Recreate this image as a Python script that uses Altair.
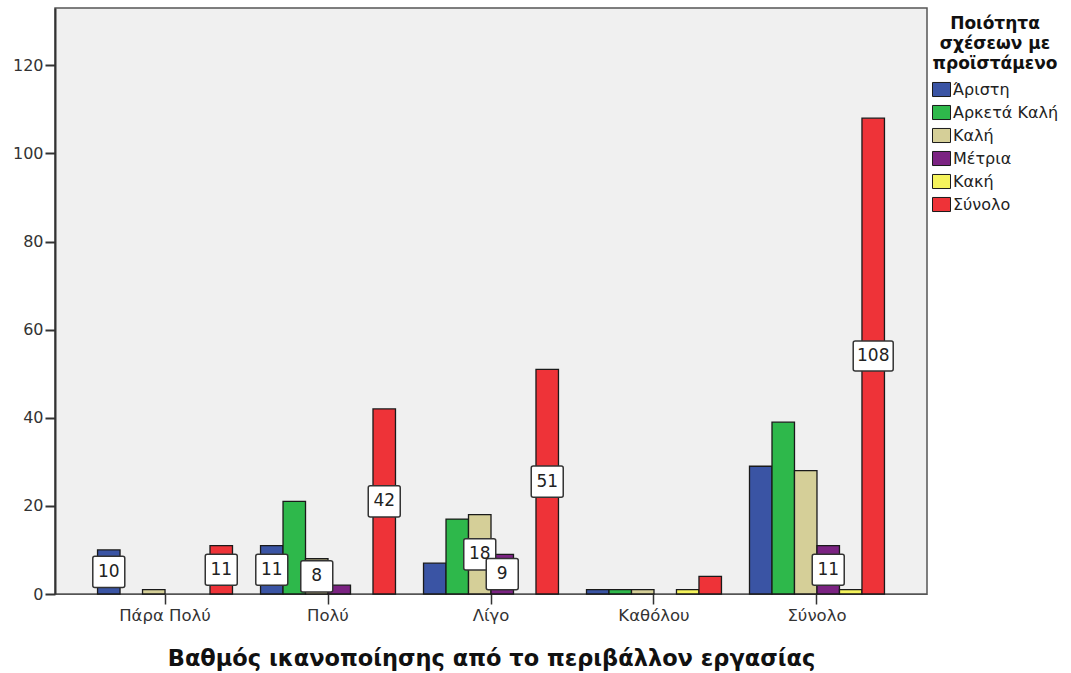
import altair as alt
import pandas as pd

# Categories
groups = ["Πάρα Πολύ", "Πολύ", "Λίγο", "Καθόλου", "Σύνολο"]
series = ["Άριστη", "Αρκετά Καλή", "Καλή", "Μέτρια", "Κακή", "Σύνολο"]
colors = ["#3a54a4", "#2eb84b", "#d5cf98", "#7b2382", "#f5f35c", "#ee3338"]

# Counts per series, one value per group
aristi = [10, 11, 7, 1, 29]
arketa_kali = [0, 21, 17, 1, 39]
kali = [1, 8, 18, 1, 28]
metria = [0, 2, 9, 0, 11]
kaki = [0, 0, 0, 1, 1]
synolo = [11, 42, 51, 4, 108]

# Bars that carry a value label (group, series)
labelled = [
    ("Πάρα Πολύ", "Άριστη"), ("Πάρα Πολύ", "Σύνολο"),
    ("Πολύ", "Άριστη"), ("Πολύ", "Καλή"), ("Πολύ", "Σύνολο"),
    ("Λίγο", "Καλή"), ("Λίγο", "Μέτρια"), ("Λίγο", "Σύνολο"),
    ("Σύνολο", "Μέτρια"), ("Σύνολο", "Σύνολο"),
]

y_ticks = [0, 20, 40, 60, 80, 100, 120]

values_by_series = [aristi, arketa_kali, kali, metria, kaki, synolo]
rows = []
for s, vals in zip(series, values_by_series):
    for g, v in zip(groups, vals):
        rows.append({"group": g, "series": s, "value": v,
                     "lab": (g, s) in labelled})
df = pd.DataFrame(rows)

FONT = "DejaVu Sans"

# Rounded label boxes as custom symbol paths (coordinates in [-1, 1])
def box_path(hx, hy, r=0.1):
    return (f"M{-hx + r},{-hy} L{hx - r},{-hy} Q{hx},{-hy} {hx},{-hy + r} "
            f"L{hx},{hy - r} Q{hx},{hy} {hx - r},{hy} L{-hx + r},{hy} "
            f"Q{-hx},{hy} {-hx},{hy - r} L{-hx},{-hy + r} Q{-hx},{-hy} {-hx + r},{-hy} Z")

narrow_box = box_path(0.8, 0.78)
wide_box = box_path(1.0, 0.75)

x_enc = alt.X(
    "group:N", sort=groups,
    scale=alt.Scale(paddingInner=0.172, paddingOuter=0.261),
    axis=alt.Axis(
        title="Βαθμός ικανοποίησης από το περιβάλλον εργασίας",
        labelAngle=0, labelFont=FONT, labelFontSize=16.5, labelColor="#333",
        labelPadding=3, tickSize=10, tickColor="#333", tickWidth=1.5,
        domainColor="#555", domainWidth=1,
        titleFont=FONT, titleFontSize=22.5, titleFontWeight="bold",
        titleColor="#111", titlePadding=24,
    ),
)
xoff_enc = alt.XOffset("series:N", sort=series,
                       scale=alt.Scale(paddingInner=0, paddingOuter=0))
y_scale = alt.Scale(domain=[0, 133], nice=False)

bars = alt.Chart(df).transform_filter("datum.value > 0").mark_bar(
    stroke="#1a1a1a", strokeWidth=1.3, opacity=1
).encode(
    x=x_enc,
    xOffset=xoff_enc,
    y=alt.Y("value:Q", scale=y_scale,
            axis=alt.Axis(values=y_ticks, title=None, grid=False,
                          labelFont=FONT, labelFontSize=16, labelColor="#333",
                          labelPadding=2, tickSize=10, tickColor="#333",
                          tickWidth=2, domainColor="#333", domainWidth=2)),
    color=alt.Color(
        "series:N", sort=series,
        scale=alt.Scale(domain=series, range=colors),
        legend=alt.Legend(
            title=["Ποιότητα", "σχέσεων με", "προϊστάμενο"],
            orient="none", legendX=877, legendY=8,
            titleFont=FONT, titleFontSize=17, titleFontWeight="bold",
            titleColor="#111", titleLineHeight=20,
            titleAnchor="middle", titleAlign="center", titlePadding=7,
            labelFont=FONT, labelFontSize=16, labelColor="#222",
            labelOffset=2, labelLimit=200,
            symbolType="M-1,-0.78L1,-0.78L1,0.78L-1,0.78Z",
            symbolSize=324, symbolStrokeColor="#1a1a1a",
            symbolStrokeWidth=1, symbolOpacity=1,
            rowPadding=4, padding=0,
        ),
    ),
)

label_base = alt.Chart(df).transform_filter("datum.lab").transform_calculate(
    mid="datum.value / 2",
    box="datum.value >= 100 ? 'w' : 'n'",
)

boxes = label_base.mark_point(
    filled=True, fill="white", stroke="#333", strokeWidth=1.5,
    size=1600, opacity=1, fillOpacity=1,
).encode(
    x=alt.X("group:N", sort=groups),
    xOffset=alt.XOffset("series:N", sort=series),
    y=alt.Y("mid:Q", scale=y_scale),
    shape=alt.Shape("box:N", scale=alt.Scale(domain=["n", "w"],
                                              range=[narrow_box, wide_box]),
                    legend=None),
)

texts = label_base.mark_text(
    font=FONT, fontSize=17, color="#222", baseline="middle", align="center",
).encode(
    x=alt.X("group:N", sort=groups),
    xOffset=alt.XOffset("series:N", sort=series),
    y=alt.Y("mid:Q", scale=y_scale),
    text=alt.Text("value:Q"),
)

chart = alt.layer(bars, boxes, texts).properties(
    width=872, height=586,
    autosize=alt.AutoSizeParams(type="none"),
    padding={"left": 55, "top": 8, "right": 144, "bottom": 79},
    background="white",
).configure_view(
    fill="#f0f0f0", stroke="#555", strokeWidth=1.5,
)

chart.save("out.html", embed_options={"renderer": "svg", "actions": False})
